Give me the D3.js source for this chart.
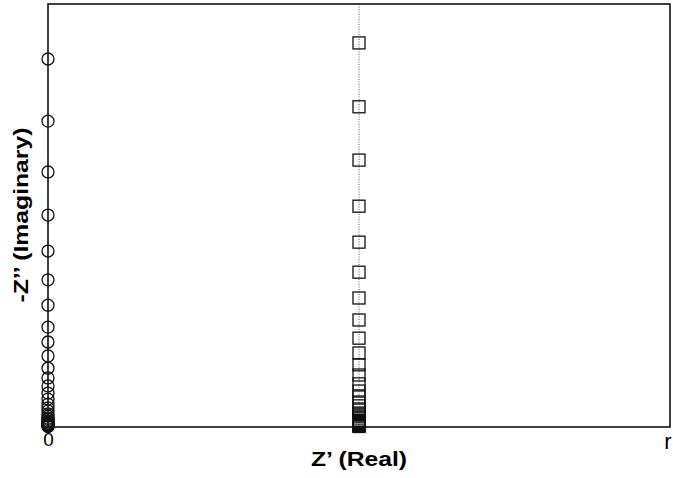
<!DOCTYPE html>
<html>
<head>
<meta charset="utf-8">
<script src="https://cdn.jsdelivr.net/npm/d3@7"></script>
<style>
html,body{margin:0;padding:0;background:#fff;}
svg{display:block;}
</style>
</head>
<body>
<svg id="chart" width="673" height="478"></svg>
<script>
// Data (y in arbitrary units, 0..100 of the plot height)
const circleX = 0;
const circleY = [87.0, 72.3, 60.3, 50.1, 41.6, 34.8, 28.8, 23.6, 20.1, 16.8, 13.9, 11.6, 9.7, 8.0, 6.6, 5.4, 4.5, 3.8, 3.1, 2.6, 2.1, 1.8, 1.4, 1.2, 0.9, 0.8, 0.7, 0.6, 0.5, 0.35, 0.24, 0.12];
const squareX = 0.5;
const squareY = [90.8, 75.7, 63.1, 52.2, 43.7, 36.6, 30.5, 25.3, 21.0, 17.5, 14.7, 12.3, 10.2, 8.5, 7.1, 5.9, 5.0, 4.0, 3.3, 2.8, 2.4, 1.9, 1.5, 1.3, 1.1, 0.8, 0.7, 0.6, 0.5, 0.35, 0.24, 0.12];
const xTickValues = [0, 1];
const xTickLabels = ["0", "r"];
const xTitle = "Z\u2019 (Real)";
const yTitle = "-Z\u2019\u2019 (Imaginary)";

const svg = d3.select("#chart");
const m = {left: 48, top: 4, right: 670, bottom: 427};
const font = "Liberation Sans, Arial, Helvetica, sans-serif";

const x = d3.scaleLinear().domain([0, 1]).range([m.left, m.right]);
const y = d3.scaleLinear().domain([0, 100]).range([m.bottom, m.top]);

// dotted vertical reference line
svg.append("line")
  .attr("x1", x(squareX)).attr("x2", x(squareX))
  .attr("y1", y(100)).attr("y2", y(0))
  .attr("stroke", "#555").attr("stroke-width", 1)
  .attr("stroke-dasharray", "1,1.5");

// frame
svg.append("rect")
  .attr("x", x(0)).attr("y", y(100))
  .attr("width", x(1) - x(0)).attr("height", y(0) - y(100))
  .attr("fill", "none").attr("stroke", "#111").attr("stroke-width", 1.6);

// x-axis tick labels
const xAxis = d3.axisBottom(x).tickValues(xTickValues)
  .tickFormat((d, i) => xTickLabels[i]).tickSize(0).tickPadding(6);
const gx = svg.append("g").attr("transform", `translate(0,${m.bottom})`).call(xAxis);
gx.select(".domain").remove();
gx.selectAll("text")
  .attr("font-family", font)
  .attr("font-size", 19).attr("fill", "#000");
gx.selectAll(".tick").filter((d) => d === 1).select("text")
  .attr("text-anchor", "end").attr("dx", 1).attr("font-size", 22);

// circles
svg.append("g").selectAll("circle").data(circleY).join("circle")
  .attr("cx", x(circleX)).attr("cy", d => y(d)).attr("r", 6)
  .attr("fill", "none").attr("stroke", "#111").attr("stroke-width", 1.3);

// squares
const s = 12;
svg.append("g").selectAll("rect").data(squareY).join("rect")
  .attr("x", x(squareX) - s / 2).attr("y", d => y(d) - s / 2)
  .attr("width", s).attr("height", s)
  .attr("fill", "none").attr("stroke", "#111").attr("stroke-width", 1.3);

// titles
svg.append("text").text(xTitle)
  .attr("x", 359).attr("y", 466)
  .attr("text-anchor", "middle")
  .attr("textLength", 96).attr("lengthAdjust", "spacingAndGlyphs")
  .attr("font-family", font)
  .attr("font-weight", "bold").attr("font-size", 20).attr("fill", "#000");

svg.append("text").text(yTitle)
  .attr("transform", "translate(28,215) rotate(-90)")
  .attr("text-anchor", "middle")
  .attr("textLength", 175).attr("lengthAdjust", "spacingAndGlyphs")
  .attr("font-family", font)
  .attr("font-weight", "bold").attr("font-size", 21).attr("fill", "#000");
</script>
</body>
</html>
